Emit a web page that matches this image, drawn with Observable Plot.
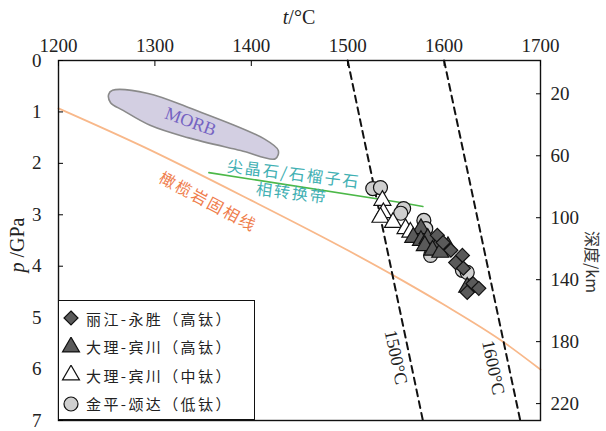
<!DOCTYPE html>
<html><head><meta charset="utf-8">
<script src="https://cdn.jsdelivr.net/npm/d3@7"></script>
<script src="https://cdn.jsdelivr.net/npm/@observablehq/plot@0.6"></script>
<style>
body{margin:0;background:#fff;}
#wrap{position:relative;width:606px;height:431px;overflow:hidden;}
.lab{position:absolute;font-family:"Liberation Serif",serif;font-size:18px;color:#222;white-space:nowrap;line-height:1;}
#legend{position:absolute;left:58px;top:300px;width:197px;height:120px;box-sizing:border-box;border:1.3px solid #111;background:#fff;}
.row{position:absolute;left:0;height:28px;display:flex;align-items:center;font-family:"Noto Sans CJK SC",sans-serif;font-size:15px;letter-spacing:2.4px;color:#222;white-space:nowrap;}
.row svg{margin-left:2px;margin-right:5px;}
</style></head><body><div id="wrap"></div>
<script>
// axis ticks
const tempTicks = [1200, 1300, 1400, 1500, 1600, 1700];
const pTicks = [0, 1, 2, 3, 4, 5, 6, 7];
const depthTicks = [20, 60, 100, 140, 180, 220];

// 丽江-永胜（高钛）
const lijiangT = [1593, 1599, 1607, 1619, 1612, 1620, 1630, 1636, 1624];
const lijiangP = [3.40, 3.54, 3.69, 3.79, 3.93, 4.04, 4.34, 4.43, 4.51];
// 大理-宾川（高钛）
const daliHighT = [1576, 1568, 1576, 1583, 1593, 1580, 1604, 1588, 1596, 1624];
const daliHighP = [3.27, 3.44, 3.50, 3.46, 3.60, 3.60, 3.62, 3.69, 3.73, 4.41];
// 大理-宾川（中钛）
const daliMidT = [1536, 1537, 1534, 1547, 1560, 1565];
const daliMidP = [2.72, 2.96, 3.05, 3.15, 3.27, 3.34];
// 金平-颂达（低钛）
const jinpingT = [1526, 1534, 1558, 1555, 1579, 1581, 1586, 1619, 1624];
const jinpingP = [2.49, 2.47, 2.88, 2.97, 3.11, 3.27, 3.79, 4.08, 4.12];

// peridotite solidus
const solidusT = [1200, 1285, 1400, 1500, 1557, 1600, 1662, 1700];
const solidusP = [0.93, 1.65, 2.72, 3.69, 4.28, 4.75, 5.48, 6.01];
// spinel/garnet transition
const transT = [1356, 1555, 1578];
const transP = [2.18, 2.76, 2.84];
// adiabats
const adiabat1500T = [1500, 1578];
const adiabat1500P = [0, 7];
const adiabat1600T = [1600, 1679];
const adiabat1600P = [0, 7];
// MORB field outline
const morbT = [1252, 1256, 1293, 1337, 1413, 1428, 1425, 1389, 1334, 1295, 1267, 1254];
const morbP = [0.66, 0.58, 0.64, 0.93, 1.52, 1.75, 1.91, 1.75, 1.50, 1.26, 0.97, 0.82];

// annotations
const cjkLabels = ["尖晶石/石榴子石", "相转换带", "橄榄岩固相线"];
const cjkT = [1444, 1442, 1355];
const cjkP = [2.22, 2.59, 2.76];
const cjkRotate = [7, 7, 28];
const cjkColors = ["#3fb0b3", "#3fb0b3", "#ef7d4c"];
const serifLabels = ["MORB", "1500°C", "1600°C"];
const serifT = [1337, 1550, 1651];
const serifP = [1.19, 5.77, 5.97];
const serifRotate = [20, 78, 78];
const serifColors = ["#7563c2", "#222", "#222"];

const legendNames = ["丽江-永胜（高钛）", "大理-宾川（高钛）", "大理-宾川（中钛）", "金平-颂达（低钛）"];
const legendSymbols = ["diamond2", "triangle", "triangle", "circle"];
const legendFills = ["#5a5a5a", "#5a5a5a", "#ffffff", "#cfcfcf"];

const zip = (a, b) => a.map((t, i) => ({t, p: b[i]}));
const depthToP = d => (d + 1.5) / 33.2;

const axisFont = {fontFamily: "Liberation Serif", fontSize: 19, fill: "#222"};

const chart = Plot.plot({
  width: 606, height: 431,
  marginLeft: 58, marginRight: 66, marginTop: 60, marginBottom: 11,
  style: {background: "#fff", overflow: "visible"},
  x: {domain: [1200, 1700]},
  y: {domain: [0, 7], reverse: true},
  marks: [
    Plot.line(zip(morbT, morbP), {x: "t", y: "p", curve: "catmull-rom-closed", fill: "#d3cfe2", stroke: "#8a8a8a", strokeWidth: 1.6}),
    Plot.line(zip(solidusT, solidusP), {x: "t", y: "p", curve: "monotone-x", stroke: "#f8b88a", strokeWidth: 1.8}),
    Plot.line(zip(transT, transP), {x: "t", y: "p", stroke: "#4cb848", strokeWidth: 1.6}),
    Plot.line(zip(adiabat1500T, adiabat1500P), {x: "t", y: "p", stroke: "#111", strokeWidth: 2, strokeDasharray: "7,5"}),
    Plot.line(zip(adiabat1600T, adiabat1600P), {x: "t", y: "p", stroke: "#111", strokeWidth: 2, strokeDasharray: "7,5"}),
    Plot.text(cjkLabels, {x: (d, i) => cjkT[i], y: (d, i) => cjkP[i], text: d => d, rotate: (d, i) => cjkRotate[i], fill: (d, i) => cjkColors[i], fontFamily: "Noto Sans CJK SC", fontSize: 16, className: "cjk"}),
    Plot.text(serifLabels, {x: (d, i) => serifT[i], y: (d, i) => serifP[i], text: d => d, rotate: (d, i) => serifRotate[i], fill: (d, i) => serifColors[i], fontFamily: "Liberation Serif", fontSize: 18}),
    Plot.dot(zip(jinpingT, jinpingP), {x: "t", y: "p", symbol: "circle", r: 7, fill: "#cfcfcf", stroke: "#111", strokeWidth: 1.2}),
    Plot.dot(zip(daliMidT, daliMidP), {x: "t", y: "p", symbol: "triangle", r: 6.3, fill: "#fff", stroke: "#111", strokeWidth: 1.2}),
    Plot.dot(zip(daliHighT, daliHighP), {x: "t", y: "p", symbol: "triangle", r: 6.3, fill: "#5a5a5a", stroke: "#111", strokeWidth: 1.2}),
    Plot.dot(zip(lijiangT, lijiangP), {x: "t", y: "p", symbol: "diamond2", r: 6.3, fill: "#5a5a5a", stroke: "#111", strokeWidth: 1.2}),
    Plot.frame({stroke: "#111", strokeWidth: 1.4}),
    Plot.axisX(tempTicks, {anchor: "top", label: null, tickSize: -5, tickPadding: 14, tickFormat: d => String(d), ...axisFont}),
    Plot.axisY(pTicks, {anchor: "left", label: null, tickSize: -5, tickPadding: 22, tickFormat: d => String(d), ...axisFont}),
    Plot.axisY(depthTicks.map(depthToP), {anchor: "right", label: null, tickSize: -5, tickPadding: 15, tickFormat: p => String(Math.round(p * 33.2 - 1.5)), ...axisFont})
  ]
});

const wrap = document.getElementById("wrap");
wrap.appendChild(chart);
d3.select(chart).selectAll("g.cjk text, .cjk text").style("letter-spacing", "2px");

function addLab(html, css) {
  const d = document.createElement("div");
  d.className = "lab";
  d.innerHTML = html;
  Object.assign(d.style, css);
  wrap.appendChild(d);
}
addLab('<i>t</i>/°C', {left: "299px", top: "17px", transform: "translate(-50%,-50%)", fontSize: "20px"});
addLab('<i>p</i> /GPa', {left: "17px", top: "245px", transform: "translate(-50%,-50%) rotate(-90deg)", fontSize: "20px"});
addLab('深度/km', {left: "593px", top: "262px", transform: "translate(-50%,-50%) rotate(90deg)", fontSize: "16px", fontFamily: "'Noto Sans CJK SC',sans-serif", color: "#333"});

// legend
const legend = document.createElement("div");
legend.id = "legend";
wrap.appendChild(legend);
legendNames.forEach((name, i) => {
  const row = document.createElement("div");
  row.className = "row";
  row.style.top = (3 + i * 28.5) + "px";
  const sym = {circle: d3.symbolCircle, triangle: d3.symbolTriangle, diamond2: d3.symbolDiamond2}[legendSymbols[i]];
  const r = legendSymbols[i] === "circle" ? 7 : 6.3;
  const path = d3.symbol(sym, Math.PI * r * r)();
  row.innerHTML = `<svg width="20" height="20" viewBox="-10 -10 20 20"><path d="${path}" fill="${legendFills[i]}" stroke="#111" stroke-width="1.2"/></svg><span>${name}</span>`;
  legend.appendChild(row);
});
</script></body></html>
